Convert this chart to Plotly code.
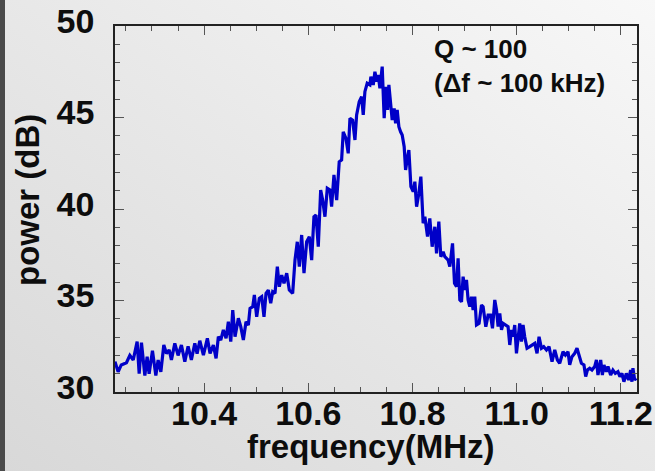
import base64
import plotly.graph_objects as go

# ---- data ----
freq_mhz = [
    10.229, 10.235, 10.241, 10.251, 10.2575, 10.264, 10.2715, 10.2754, 10.2798, 10.2863,
    10.2907, 10.2945, 10.3009, 10.3074, 10.3118, 10.317, 10.3227, 10.3277, 10.333, 10.3373,
    10.3438, 10.3501, 10.3565, 10.363, 10.3693, 10.3756, 10.3822, 10.3866, 10.3918,
    10.3987, 10.4063, 10.4115, 10.4178, 10.423, 10.4274, 10.432, 10.437, 10.4422, 10.4466,
    10.4512, 10.455, 10.4594, 10.4658, 10.4704, 10.4754, 10.4805, 10.485, 10.4882, 10.4934,
    10.4965, 10.501, 10.506, 10.5106, 10.515, 10.5189, 10.5233, 10.5279, 10.5317, 10.5361,
    10.5406, 10.5444, 10.549, 10.5534, 10.5586, 10.5636,
    10.570, 10.5745, 10.5789, 10.5828, 10.5873, 10.5918, 10.5969, 10.602, 10.6065, 10.6109,
    10.6148, 10.6192, 10.6238, 10.6276, 10.632, 10.6365, 10.6416, 10.6448, 10.6493, 10.6545,
    10.6594, 10.664, 10.6671, 10.6723, 10.6767, 10.68, 10.6851, 10.6896, 10.6928, 10.6978,
    10.7024, 10.7055, 10.7087, 10.7131, 10.7183,
    10.7202, 10.7247, 10.7279, 10.7317, 10.7343, 10.7375, 10.7419, 10.7457, 10.749, 10.7522,
    10.7547, 10.7586, 10.7611, 10.7649, 10.7676, 10.7707, 10.7739, 10.7772, 10.7803, 10.7841,
    10.7868, 10.7906, 10.7931, 10.797, 10.8014, 10.8046, 10.8079, 10.8123, 10.8161, 10.8205,
    10.8238, 10.8289, 10.8333, 10.8378, 10.8429, 10.8462, 10.8506, 10.8544, 10.8589, 10.8621,
    10.8685,
    10.8717, 10.8769, 10.8807, 10.8846, 10.8876, 10.8909, 10.8941, 10.8972, 10.9005, 10.9037,
    10.9068, 10.91, 10.9133, 10.9164, 10.9196, 10.9229, 10.9279, 10.9325, 10.9356, 10.9408,
    10.9452, 10.9498, 10.9536, 10.958, 10.9613, 10.9644, 10.9676, 10.9709, 10.974, 10.9791,
    10.9835, 10.9868, 10.99, 10.9931, 10.9963, 10.9996, 11.0027, 11.0059, 11.0092, 11.0123,
    11.0155, 11.0199, 11.0251, 11.0303, 11.0347, 11.0391, 11.043, 11.0476, 11.052, 11.0572,
    11.0621,
    11.0679, 11.0731, 11.0782, 11.0826, 11.089, 11.0936, 11.0986, 11.1018, 11.1062, 11.1114,
    11.1158, 11.1197, 11.1243, 11.1292, 11.1325, 11.1358, 11.1402, 11.1446, 11.1498, 11.1531,
    11.1561, 11.1613, 11.1645, 11.1676, 11.1722, 11.1753, 11.1804, 11.1848, 11.1894, 11.1944,
    11.1982, 11.2021, 11.2059, 11.2105, 11.2149, 11.2188, 11.2213, 11.2232, 11.2265, 11.2297,
]

power_db = [
    31.66, 31.10, 31.48, 31.60, 32.00, 31.75, 32.75, 31.00, 32.70, 30.90,
    31.93, 31.00, 32.26, 30.90, 31.75, 31.10, 32.57, 32.10, 32.30, 31.75,
    32.66, 32.00, 32.57, 31.66, 32.50, 31.75, 32.66, 32.10, 32.80,
    32.02, 32.93, 32.11, 32.57, 31.84, 33.02, 32.84, 33.39, 32.93, 33.84,
    32.75, 34.48, 33.02, 34.03, 33.57, 32.84, 33.84, 33.66, 34.57, 34.66,
    35.30, 34.11, 35.12, 35.21, 34.11, 35.39, 35.57, 34.85, 35.48, 35.39,
    36.85, 35.75, 36.39, 35.94, 36.49, 35.57,
    35.39, 37.21, 38.21, 36.85, 38.58, 36.49, 38.21, 38.49, 37.21, 39.58,
    39.67, 37.94, 41.04, 40.49, 39.58, 41.13, 41.04, 40.13, 41.86, 40.49,
    42.58, 42.68, 44.22, 43.86, 43.04, 44.96, 44.86, 43.77, 45.14, 45.86,
    46.14, 45.14, 46.41, 46.87, 46.78,
    47.23, 46.78, 47.50, 46.96, 47.32, 46.60, 47.78, 44.96, 46.68, 45.41,
    46.78, 45.78, 44.86, 45.50, 44.68, 45.41, 44.50, 44.22, 44.04, 43.40,
    42.13, 42.86, 43.22, 41.22, 40.95, 41.49, 40.13, 40.86, 41.77, 39.22,
    39.58, 38.49, 39.49, 37.94, 39.03, 37.58, 39.31, 37.39, 37.67, 37.39,
    37.21,
    36.85, 38.12, 35.94, 35.75, 37.30, 35.03, 34.93, 36.30, 35.57, 36.12,
    35.03, 34.66, 35.21, 34.48, 35.21, 33.66, 33.75, 34.75, 34.66, 33.57,
    34.20, 34.20, 33.48, 35.03, 34.48, 33.57, 34.30, 33.39, 33.75, 33.66,
    33.57, 32.57, 33.39, 33.02, 33.66, 32.11, 33.02, 33.75, 32.75, 33.66,
    33.02, 32.39, 32.48, 32.57, 32.66, 32.11, 33.02, 32.39, 32.48, 32.30,
    32.48,
    31.66, 32.30, 31.75, 31.57, 32.20, 32.02, 32.20, 31.48, 31.93, 32.11,
    32.39, 31.93, 31.57, 31.48, 30.84, 31.20, 31.30, 31.20, 31.39, 31.75,
    30.93, 31.75, 30.93, 31.48, 31.11, 31.39, 30.93, 31.20, 31.02, 31.11,
    30.84, 31.02, 30.56, 31.02, 30.66, 31.20, 30.56, 31.30, 30.66, 30.75,
]

x_tick_vals = [10.4, 10.6, 10.8, 11.0, 11.2]
x_tick_text = ["10.4", "10.6", "10.8", "11.0", "11.2"]
y_tick_vals = [30, 35, 40, 45, 50]
y_tick_text = ["30", "35", "40", "45", "50"]
x_range = [10.229, 11.231]
y_range = [30, 50]
x_title = "frequency(MHz)"
y_title = "power (dB)"
note_lines = ["Q ~ 100", "(\u0394f ~ 100 kHz)"]

# ---- page geometry ----
W, H = 655, 471
ML, MR, MT, MB = 115, 18, 26, 79
PW, PH = W - ML - MR, H - MT - MB

FONT = "Liberation Sans, Arial, Helvetica, sans-serif"
INK = "#0d0d0d"

svg = (
    f"<svg xmlns='http://www.w3.org/2000/svg' width='{W}' height='{H}' viewBox='0 0 {W} {H}' preserveAspectRatio='none'>"
    "<defs><linearGradient id='g' x1='0' y1='1' x2='1' y2='0'>"
    "<stop offset='0' stop-color='#d8d8d8'/><stop offset='0.55' stop-color='#e9e9e9'/>"
    "<stop offset='1' stop-color='#f8f8f8'/></linearGradient></defs>"
    f"<rect width='{W}' height='{H}' fill='url(#g)'/>"
    f"<rect width='5' height='{H}' fill='#4a4a4a'/></svg>"
)
bg_src = "data:image/svg+xml;base64," + base64.b64encode(svg.encode()).decode()

fig = go.Figure()
fig.add_trace(go.Scatter(
    x=freq_mhz, y=power_db, mode="lines",
    line=dict(color="#0000c8", width=3.2),
    hoverinfo="skip", showlegend=False,
))

axis_common = dict(
    showgrid=False, zeroline=False, automargin=False,
    showline=True, linecolor="#222222", linewidth=1.5,
    mirror="allticks", ticks="inside", ticklen=9, tickwidth=1.3, tickcolor="#555555",
    tickfont=dict(family=FONT, size=34, color=INK, weight="bold"),
)

fig.update_xaxes(
    **axis_common,
    range=x_range, tickmode="array", tickvals=x_tick_vals, ticktext=x_tick_text,
    minor=dict(dtick=0.05, tick0=10.4, ticks="inside", ticklen=5, tickwidth=1.2, tickcolor="#555555"),
    ticklabelstandoff=-10,
)
fig.update_yaxes(
    **axis_common,
    range=y_range, tickmode="array", tickvals=y_tick_vals, ticktext=y_tick_text,
    minor=dict(dtick=1, tick0=30, ticks="inside", ticklen=5, tickwidth=1.2, tickcolor="#555555"),
    ticklabelstandoff=12, ticklabelshift=-5,
)

# axis titles
fig.add_annotation(
    xref="paper", yref="paper", x=(371 - ML) / PW, y=-(446 - (MT + PH)) / PH,
    xanchor="center", yanchor="middle", showarrow=False, text=x_title,
    font=dict(family=FONT, size=33, color=INK, weight="bold"),
)
fig.add_annotation(
    xref="paper", yref="paper", x=-(ML - 27) / PW, y=1 - (200 - MT) / PH,
    xanchor="center", yanchor="middle", showarrow=False, text=y_title, textangle=-90,
    font=dict(family=FONT, size=33, color=INK, weight="bold"),
)

fig.add_annotation(
    xref="paper", yref="paper", x=(432 - ML) / PW, y=1 - (32 - MT) / PH,
    xanchor="left", yanchor="top", align="left", showarrow=False,
    text="<br>".join(note_lines),
    font=dict(family=FONT, size=26, color=INK, weight="bold"),
)

fig.update_layout(
    width=W, height=H,
    margin=dict(l=ML, r=MR, t=MT, b=MB, pad=0),
    paper_bgcolor="#e8e8e8", plot_bgcolor="rgba(0,0,0,0)",
    images=[dict(
        source=bg_src, xref="paper", yref="paper",
        x=-ML / PW, y=1 + MT / PH, sizex=W / PW, sizey=H / PH,
        xanchor="left", yanchor="top", sizing="stretch", layer="below",
    )],
)

fig.write_html("out.html")
